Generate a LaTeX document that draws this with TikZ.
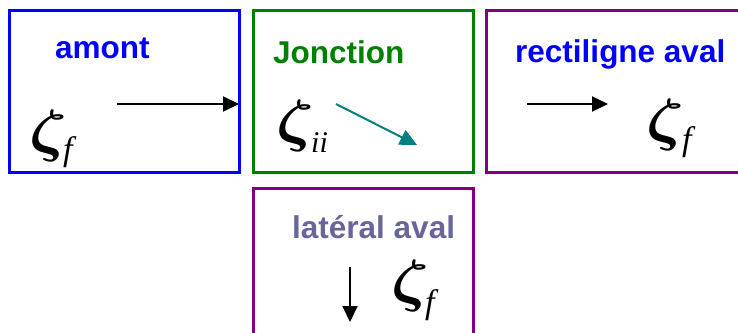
\documentclass[tikz,border=0pt]{standalone}
\usepackage{fontspec}
\setmainfont{Liberation Serif}
\newfontfamily\arialfont{Liberation Sans}
\usetikzlibrary{arrows.meta}
\definecolor{cblue}{RGB}{0,0,255}
\definecolor{cgreen}{RGB}{0,128,0}
\definecolor{cpurple}{RGB}{128,0,128}
\definecolor{cslate}{RGB}{102,102,153}
\definecolor{cteal}{RGB}{0,128,128}
\newcommand{\bigzeta}{\scalebox{6.6}[5.8]{\boldmath$\zeta$}}
\tikzset{
  box/.style={draw, line width=3pt},
  title/.style={anchor=base west, inner sep=0pt, font=\arialfont\bfseries\fontsize{31.5}{36}\selectfont},
  zeta/.style={anchor=base west, inner sep=0pt},
  subs/.style={anchor=base west, inner sep=0pt, font=\itshape\fontsize{34}{38}\selectfont},
  flow/.style={line width=2pt, -{Triangle[length=16pt,width=15pt]}},
}
\begin{document}
\begin{tikzpicture}[x=1pt,y=-1pt]
\useasboundingbox (0,0) rectangle (738,332);
\clip (0,0) rectangle (738,332);
% boxes
\draw[box, cblue] (9,10) rectangle (239,172);
\draw[box, cgreen] (253,10) rectangle (473,172);
\draw[box, cpurple] (486,10) rectangle (770,172);
\draw[box, cpurple] (253,188) rectangle (473,370);
% titles
\node[title, text=cblue] (t1) at (55,58) {amont};
\node[title, text=cgreen] (t2) at (273,63) {Jonction};
\node[title, text=cblue] (t3) at (515,62) {rectiligne aval};
\node[title, text=cslate] (t4) at (292,238) {latéral aval};
% symbols
\node[zeta] (z1) at (29,150) {\bigzeta};
\node[subs] (f1) at (63,160) {f};
\node[zeta] (z2) at (276,140) {\bigzeta};
\node[subs, font=\itshape\fontsize{30}{34}\selectfont] (f2) at (311,152) {ii};
\node[zeta] (z3) at (646,139) {\bigzeta};
\node[subs] (f3) at (682,150) {f};
\node[zeta] (z4) at (391,300) {\bigzeta};
\node[subs] (f4) at (425,313) {f};
% arrows
\coordinate (a1s) at (117,104); \coordinate (a1e) at (239,104);
\coordinate (a2s) at (336,104); \coordinate (a2e) at (417,145);
\coordinate (a3s) at (527,104); \coordinate (a3e) at (608,104);
\coordinate (a4s) at (350,267); \coordinate (a4e) at (350,322);
\draw[flow] (a1s) -- (a1e);
\draw[flow, cteal, -{Triangle[length=17pt,width=16pt]}] (a2s) -- (a2e);
\draw[flow] (a3s) -- (a3e);
\draw[flow] (a4s) -- (a4e);
\end{tikzpicture}
\end{document}
